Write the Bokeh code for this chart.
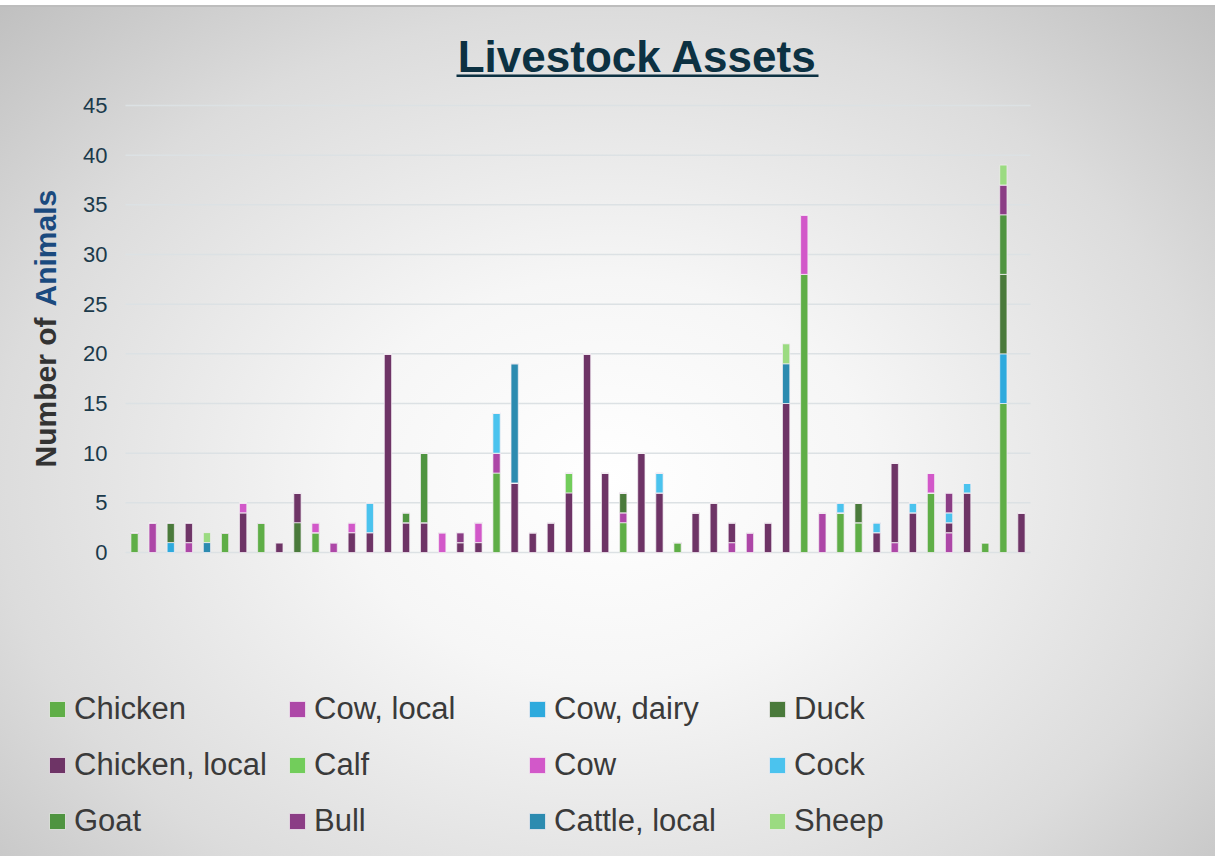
from math import pi

from bokeh.core.properties import value
from bokeh.embed import file_html
from bokeh.models import (BoxAnnotation, ColumnDataSource, Label, Legend,
                          LegendItem, Range1d)
from bokeh.plotting import figure
from bokeh.resources import INLINE

# ---- data: one stacked bar per household --------------------------------
households = list(range(1, 51))

series_labels = ["Chicken", "Cow, local", "Cow, dairy", "Duck",
                 "Chicken, local", "Calf", "Cow", "Cock",
                 "Goat", "Bull", "Cattle, local", "Sheep"]

chicken = [2, 0, 0, 0, 0, 2, 0, 3, 0, 0, 2, 0, 0, 0, 0, 0, 0, 0, 0, 0,
           8, 0, 0, 0, 0, 0, 0, 3, 0, 0, 1, 0, 0, 0, 0, 0, 0, 28, 0, 4,
           3, 0, 0, 0, 6, 0, 0, 1, 15, 0]
cow_local = [0, 3, 0, 1, 0, 0, 0, 0, 0, 0, 0, 1, 0, 0, 0, 0, 0, 0, 0, 0,
             2, 0, 0, 0, 0, 0, 0, 1, 0, 0, 0, 0, 0, 1, 2, 0, 0, 0, 4, 0,
             0, 0, 1, 0, 0, 2, 0, 0, 0, 0]
cow_dairy = [0, 0, 1, 0, 0, 0, 0, 0, 0, 0, 0, 0, 0, 0, 0, 0, 0, 0, 0, 0,
             0, 0, 0, 0, 0, 0, 0, 0, 0, 0, 0, 0, 0, 0, 0, 0, 0, 0, 0, 0,
             0, 0, 0, 0, 0, 0, 0, 0, 5, 0]
duck = [0, 0, 2, 0, 0, 0, 0, 0, 0, 3, 0, 0, 0, 0, 0, 0, 0, 0, 0, 0,
        0, 0, 0, 0, 0, 0, 0, 2, 0, 0, 0, 0, 0, 0, 0, 0, 0, 0, 0, 0,
        2, 0, 0, 0, 0, 0, 0, 0, 8, 0]
chicken_local = [0, 0, 0, 2, 0, 0, 4, 0, 1, 3, 0, 0, 2, 2, 20, 3, 3, 0, 1, 1,
                 0, 7, 2, 3, 6, 20, 8, 0, 10, 6, 0, 4, 5, 2, 0, 3, 15, 0, 0, 0,
                 0, 2, 8, 4, 0, 1, 6, 0, 0, 4]
calf = [0, 0, 0, 0, 0, 0, 0, 0, 0, 0, 0, 0, 0, 0, 0, 0, 0, 0, 0, 0,
        0, 0, 0, 0, 2, 0, 0, 0, 0, 0, 0, 0, 0, 0, 0, 0, 0, 0, 0, 0,
        0, 0, 0, 0, 0, 0, 0, 0, 0, 0]
cow = [0, 0, 0, 0, 0, 0, 1, 0, 0, 0, 1, 0, 1, 0, 0, 0, 0, 2, 0, 2,
       0, 0, 0, 0, 0, 0, 0, 0, 0, 0, 0, 0, 0, 0, 0, 0, 0, 6, 0, 0,
       0, 0, 0, 0, 2, 0, 0, 0, 0, 0]
cock = [0, 0, 0, 0, 0, 0, 0, 0, 0, 0, 0, 0, 0, 3, 0, 0, 0, 0, 0, 0,
        4, 0, 0, 0, 0, 0, 0, 0, 0, 2, 0, 0, 0, 0, 0, 0, 0, 0, 0, 1,
        0, 1, 0, 1, 0, 1, 1, 0, 0, 0]
goat = [0, 0, 0, 0, 0, 0, 0, 0, 0, 0, 0, 0, 0, 0, 0, 1, 7, 0, 0, 0,
        0, 0, 0, 0, 0, 0, 0, 0, 0, 0, 0, 0, 0, 0, 0, 0, 0, 0, 0, 0,
        0, 0, 0, 0, 0, 0, 0, 0, 6, 0]
bull = [0, 0, 0, 0, 0, 0, 0, 0, 0, 0, 0, 0, 0, 0, 0, 0, 0, 0, 1, 0,
        0, 0, 0, 0, 0, 0, 0, 0, 0, 0, 0, 0, 0, 0, 0, 0, 0, 0, 0, 0,
        0, 0, 0, 0, 0, 2, 0, 0, 3, 0]
cattle_local = [0, 0, 0, 0, 1, 0, 0, 0, 0, 0, 0, 0, 0, 0, 0, 0, 0, 0, 0, 0,
                0, 12, 0, 0, 0, 0, 0, 0, 0, 0, 0, 0, 0, 0, 0, 0, 4, 0, 0, 0,
                0, 0, 0, 0, 0, 0, 0, 0, 0, 0]
sheep = [0, 0, 0, 0, 1, 0, 0, 0, 0, 0, 0, 0, 0, 0, 0, 0, 0, 0, 0, 0,
         0, 0, 0, 0, 0, 0, 0, 0, 0, 0, 0, 0, 0, 0, 0, 0, 2, 0, 0, 0,
         0, 0, 0, 0, 0, 0, 0, 0, 2, 0]

y_ticks = [0, 5, 10, 15, 20, 25, 30, 35, 40, 45]
y_tick_labels = [str(t) for t in y_ticks]

series_values = [chicken, cow_local, cow_dairy, duck, chicken_local, calf,
                 cow, cock, goat, bull, cattle_local, sheep]
series_keys = ["chicken", "cow_local", "cow_dairy", "duck", "chicken_local",
               "calf", "cow", "cock", "goat", "bull", "cattle_local", "sheep"]
series_colors = ["#5fae47", "#ad47a7", "#2eaadd", "#4a7a3b",
                 "#6e3466", "#72cd5b", "#d258c9", "#4bc3ee",
                 "#4f9440", "#8b3d85", "#2c8bb0", "#9bdb81"]

source = ColumnDataSource(dict(household=households,
                               **dict(zip(series_keys, series_values))))

# ---- page geometry -------------------------------------------------------
W, H = 1215, 856
PLOT_L, PLOT_R, PLOT_T, PLOT_B = 125, 1030, 105, 552
Y_MAX = 45
FONT = "Liberation Sans"

n = len(households)
ux = (PLOT_R - PLOT_L) / n            # pixels per household slot
uy = (PLOT_B - PLOT_T) / Y_MAX        # pixels per animal
x_start = 0.5 - PLOT_L / ux
y_start = -(H - PLOT_B) / uy


def px_x(px):
    return x_start + px / ux


def px_y(py):
    return y_start + (H - py) / uy


p = figure(width=W, height=H, output_backend="svg", toolbar_location=None,
           x_range=Range1d(x_start, x_start + W / ux),
           y_range=Range1d(y_start, y_start + H / uy),
           min_border=0)
p.axis.visible = False
p.grid.visible = False
p.outline_line_color = None
p.background_fill_alpha = 0
p.border_fill_alpha = 0
p.styles = {
    "background-image": (
        "linear-gradient(to bottom, #ffffff 0px, #ffffff 5px, #bdbdbd 5px, "
        "#bdbdbd 7px, rgba(0,0,0,0) 7px),"
        "radial-gradient(ellipse 72% 78% at 50% 56%, #ffffff 0%, #f6f6f6 30%, "
        "#dcdcdc 70%, #bfbfbf 100%)"
    )
}

# horizontal grid lines across the household slots
p.segment(x0=[0.5] * len(y_ticks), x1=[n + 0.5] * len(y_ticks),
          y0=y_ticks, y1=y_ticks, line_color="#dce1e4", line_width=1.5)

# y tick labels
p.text(x=[px_x(PLOT_L - 18)] * len(y_ticks), y=y_ticks, text=y_tick_labels,
       text_align="right", text_baseline="middle", text_font=value(FONT),
       text_font_size="22px", text_color="#1b3a4b")

renderers = p.vbar_stack(series_keys, x="household", width=0.4, source=source,
                         color=series_colors, line_color="#f4eef4",
                         line_alpha=0.7, line_width=1)

# ---- title ---------------------------------------------------------------
p.add_layout(Label(x=px_x(637), y=px_y(56), text="Livestock Assets",
                   text_align="center", text_baseline="middle",
                   text_font=FONT, text_font_style="bold",
                   text_font_size="44px", text_color="#0c3142"))
p.add_layout(BoxAnnotation(left=px_x(456), right=px_x(818),
                           top=px_y(74), bottom=px_y(76.5),
                           fill_color="#0c3142", fill_alpha=1,
                           line_color=None))

# ---- y axis title in two colours ------------------------------------------
p.add_layout(Label(x=px_x(45), y=px_y(467), text="Number of", angle=pi / 2,
                   text_align="left", text_baseline="middle", text_font=FONT,
                   text_font_style="bold", text_font_size="30px",
                   text_color="#333333"))
p.add_layout(Label(x=px_x(45), y=px_y(306), text="Animals", angle=pi / 2,
                   text_align="left", text_baseline="middle", text_font=FONT,
                   text_font_style="bold", text_font_size="30px",
                   text_color="#1b4a7e"))

# ---- legend --------------------------------------------------------------
items = [LegendItem(label=lab, renderers=[r])
         for lab, r in zip(series_labels, renderers)]
legend = Legend(items=items, orientation="horizontal", ncols=4,
                location=(47, 14), padding=0, margin=0, spacing=13,
                glyph_width=20, glyph_height=20, label_standoff=7,
                label_width=200, label_height=43,
                label_text_font=FONT, label_text_font_size="31px",
                label_text_color="#3a3a3a",
                border_line_color=None, background_fill_alpha=0)
p.add_layout(legend, "center")

open("out.html", "w").write(file_html(p, INLINE))
